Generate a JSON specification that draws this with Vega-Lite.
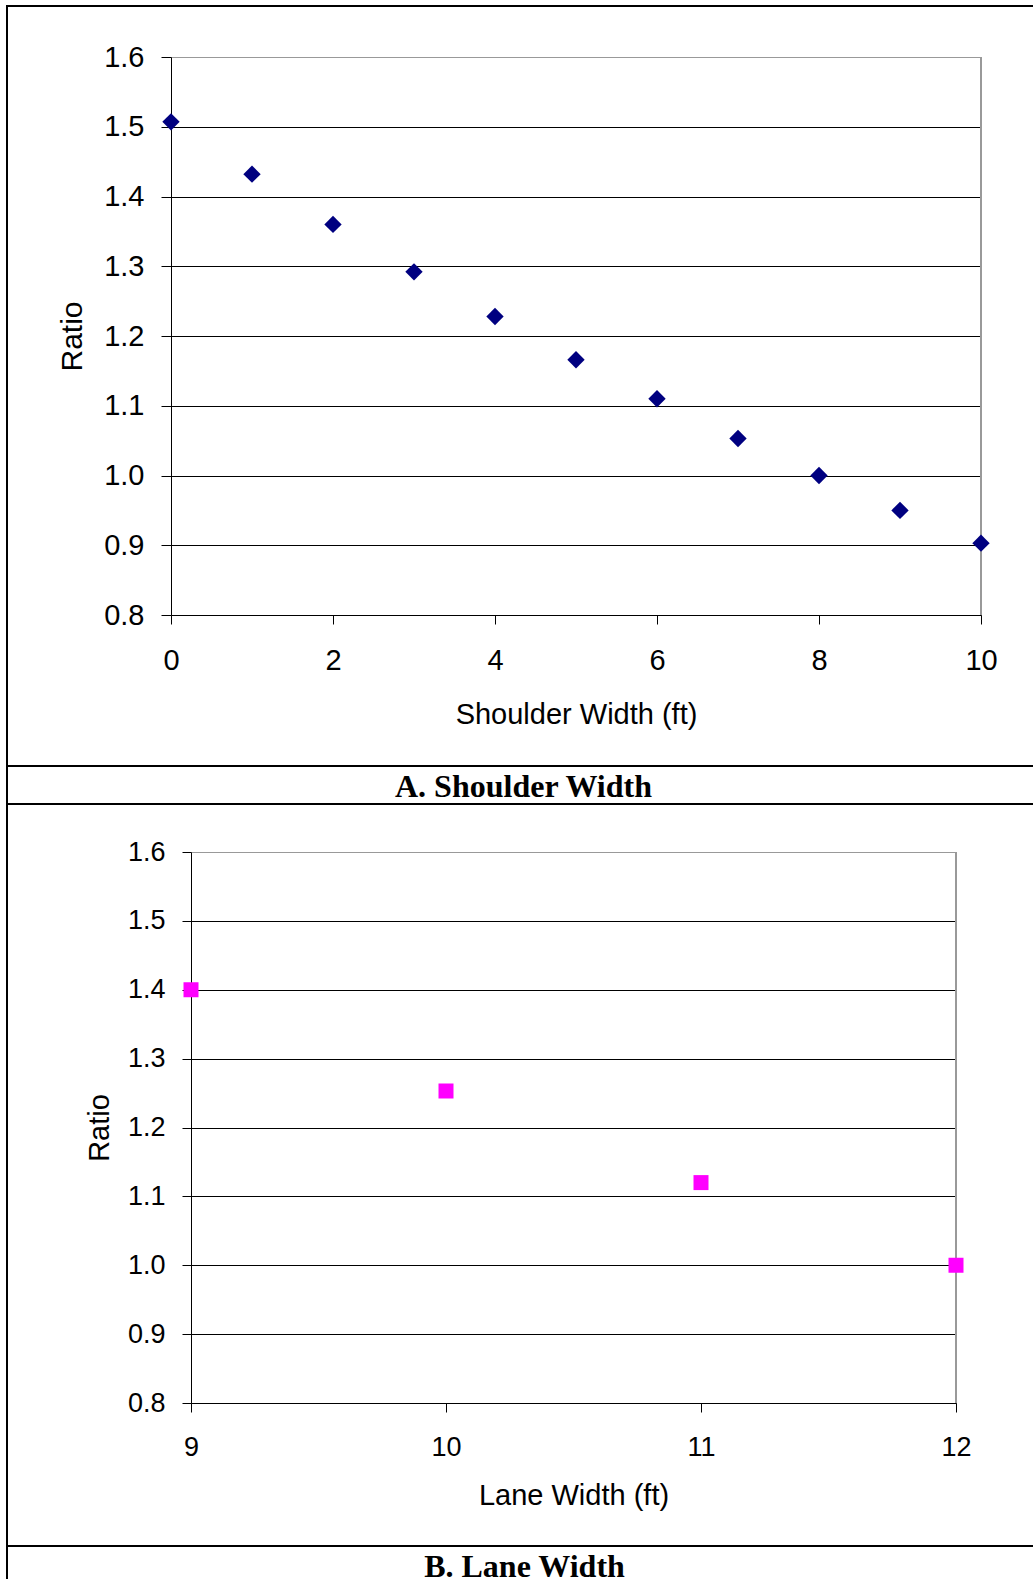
{
  "$schema": "https://vega.github.io/schema/vega-lite/v6.json",
  "background": "white",
  "padding": {"left": 6, "top": 5, "right": 0, "bottom": 0},
  "spacing": 0,
  "bounds": "flush",
  "datasets": {
    "shoulder": [
      {"shoulder_width_ft": 0, "ratio": 1.507},
      {"shoulder_width_ft": 1, "ratio": 1.432},
      {"shoulder_width_ft": 2, "ratio": 1.360},
      {"shoulder_width_ft": 3, "ratio": 1.292},
      {"shoulder_width_ft": 4, "ratio": 1.228},
      {"shoulder_width_ft": 5, "ratio": 1.166},
      {"shoulder_width_ft": 6, "ratio": 1.110},
      {"shoulder_width_ft": 7, "ratio": 1.053},
      {"shoulder_width_ft": 8, "ratio": 1.000},
      {"shoulder_width_ft": 9, "ratio": 0.950},
      {"shoulder_width_ft": 10, "ratio": 0.903}
    ],
    "lane": [
      {"lane_width_ft": 9, "ratio": 1.40},
      {"lane_width_ft": 10, "ratio": 1.253},
      {"lane_width_ft": 11, "ratio": 1.120},
      {"lane_width_ft": 12, "ratio": 1.00}
    ],
    "titleA": [{"label": "A. Shoulder Width"}],
    "titleB": [{"label": "B. Lane Width"}]
  },
  "vconcat": [
    {
      "width": 1027,
      "height": 760,
      "view": {"stroke": "#000000", "strokeWidth": 2, "fill": "white"},
      "data": {"name": "shoulder"},
      "layer": [
        {
          "mark": {"type": "rule", "color": "#999999", "strokeWidth": 2},
          "encoding": {
            "x": {"datum": 10, "type": "quantitative"},
            "y": {"datum": 0.8, "type": "quantitative"},
            "y2": {"datum": 1.6}
          }
        },
        {
          "mark": {"type": "point", "shape": "diamond", "filled": true, "size": 300, "color": "#000080", "opacity": 1, "strokeWidth": 0},
          "encoding": {
            "x": {
              "field": "shoulder_width_ft",
              "type": "quantitative",
              "scale": {"domain": [0, 10], "range": [164, 974], "nice": false, "zero": false},
              "axis": {
                "orient": "bottom",
                "offset": -151,
                "values": [0, 2, 4, 6, 8, 10],
                "format": "d",
                "labelFontSize": 29,
                "labelPadding": 22,
                "tickSize": 9,
                "title": "Shoulder Width (ft)",
                "titleFontSize": 29,
                "titlePadding": 25,
                "grid": false
              }
            },
            "y": {
              "field": "ratio",
              "type": "quantitative",
              "scale": {"domain": [0.8, 1.6], "range": [609, 51], "nice": false, "zero": false},
              "axis": {
                "orient": "left",
                "offset": -164,
                "values": [0.8, 0.9, 1.0, 1.1, 1.2, 1.3, 1.4, 1.5, 1.6],
                "format": ".1f",
                "labelFontSize": 29,
                "labelPadding": 17,
                "tickSize": 10,
                "title": "Ratio",
                "titleFontSize": 30,
                "titlePadding": 16,
                "grid": true,
                "gridWidth": 1,
                "gridColor": {"condition": {"test": "datum.value > 1.55", "value": "#999999"}, "value": "#000000"}
              }
            }
          }
        }
      ]
    },
    {
      "width": 1027,
      "height": 38,
      "view": {"stroke": "#000000", "strokeWidth": 2, "fill": "white"},
      "data": {"name": "titleA"},
      "mark": {"type": "text", "font": "Liberation Serif", "fontWeight": "bold", "fontSize": 32, "baseline": "alphabetic", "align": "center", "dy": 12, "dx": 3, "color": "#000000"},
      "encoding": {"text": {"field": "label", "type": "nominal"}}
    },
    {
      "width": 1027,
      "height": 742,
      "view": {"stroke": "#000000", "strokeWidth": 2, "fill": "white"},
      "data": {"name": "lane"},
      "layer": [
        {
          "mark": {"type": "rule", "color": "#999999", "strokeWidth": 2},
          "encoding": {
            "x": {"datum": 12, "type": "quantitative"},
            "y": {"datum": 0.8, "type": "quantitative"},
            "y2": {"datum": 1.6}
          }
        },
        {
          "mark": {"type": "point", "shape": "square", "filled": true, "size": 225, "color": "#FF00FF", "opacity": 1, "strokeWidth": 0},
          "encoding": {
            "x": {
              "field": "lane_width_ft",
              "type": "quantitative",
              "scale": {"domain": [9, 12], "range": [184, 949], "nice": false, "zero": false},
              "axis": {
                "orient": "bottom",
                "offset": -143,
                "values": [9, 10, 11, 12],
                "format": "d",
                "labelFontSize": 27,
                "labelPadding": 22,
                "tickSize": 9,
                "title": "Lane Width (ft)",
                "titleFontSize": 29,
                "titlePadding": 21,
                "grid": false
              }
            },
            "y": {
              "field": "ratio",
              "type": "quantitative",
              "scale": {"domain": [0.8, 1.6], "range": [599, 48], "nice": false, "zero": false},
              "axis": {
                "orient": "left",
                "offset": -184,
                "values": [0.8, 0.9, 1.0, 1.1, 1.2, 1.3, 1.4, 1.5, 1.6],
                "format": ".1f",
                "labelFontSize": 27,
                "labelPadding": 17,
                "tickSize": 9,
                "title": "Ratio",
                "titleFontSize": 29,
                "titlePadding": 13,
                "grid": true,
                "gridWidth": 1,
                "gridColor": {"condition": {"test": "datum.value > 1.55", "value": "#999999"}, "value": "#000000"}
              }
            }
          }
        }
      ]
    },
    {
      "width": 1027,
      "height": 38,
      "view": {"stroke": "#000000", "strokeWidth": 2, "fill": "white"},
      "data": {"name": "titleB"},
      "mark": {"type": "text", "font": "Liberation Serif", "fontWeight": "bold", "fontSize": 32, "baseline": "alphabetic", "align": "center", "dy": 12, "dx": 4, "color": "#000000"},
      "encoding": {"text": {"field": "label", "type": "nominal"}}
    }
  ],
  "config": {
    "font": "Liberation Sans",
    "axis": {
      "labelFont": "Liberation Sans",
      "titleFont": "Liberation Sans",
      "labelColor": "#000000",
      "titleColor": "#000000",
      "titleFontWeight": "normal",
      "tickColor": "#000000",
      "tickWidth": 1,
      "domainColor": "#000000",
      "domainWidth": 1,
      "labelFlush": false,
      "labelOverlap": false,
      "labelBound": false
    }
  }
}
